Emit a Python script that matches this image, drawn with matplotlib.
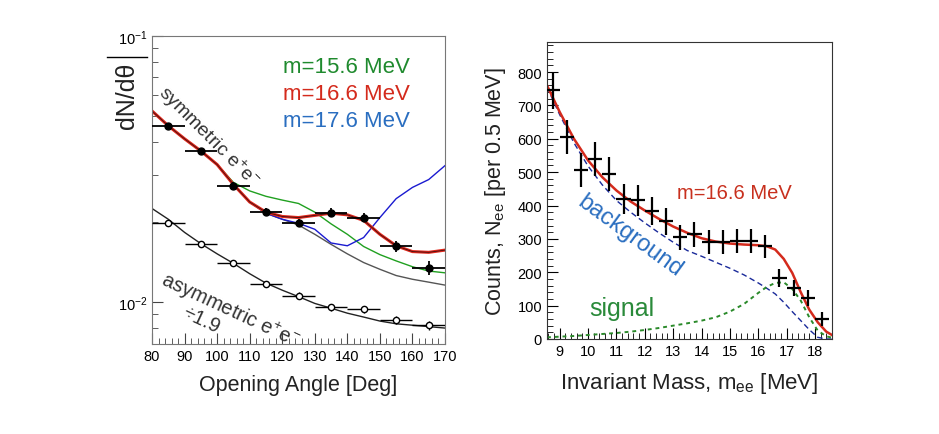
import numpy as np
import matplotlib
matplotlib.use("Agg")
import matplotlib.pyplot as plt
from matplotlib.ticker import MultipleLocator, LogLocator, NullFormatter, FixedLocator
from matplotlib.lines import Line2D

plt.rcParams['font.family'] = ['Liberation Sans', 'DejaVu Sans']
plt.rcParams['mathtext.fontset'] = 'custom'
plt.rcParams['mathtext.rm'] = 'Liberation Sans'
plt.rcParams['mathtext.it'] = 'Liberation Sans:italic'

# ---- left panel: angular distributions ----
ang = [85, 95, 105, 115, 125, 135, 145, 155, 165]
sym_y = [0.046, 0.037, 0.0274, 0.0219, 0.0198, 0.0217, 0.0208, 0.0162, 0.0135]
sym_err = [0.0009, 0.0008, 0.0008, 0.0007, 0.0007, 0.0008, 0.0008, 0.0008, 0.0008]
asym_y = [0.0199, 0.0165, 0.0141, 0.0117, 0.0106, 0.00957, 0.0094, 0.00858, 0.0082]
asym_err = [0.0003, 0.0003, 0.0003, 0.0003, 0.0003, 0.0003, 0.0003, 0.0003, 0.0003]

cx = [80, 85, 90, 95, 100, 105, 110, 115, 120, 125, 130, 135, 140, 145, 150, 155, 160, 165, 170]
fit_red = [0.0523, 0.046, 0.0411, 0.037, 0.0329, 0.0277, 0.0238, 0.0218, 0.0210, 0.0208, 0.0212,
           0.0216, 0.0213, 0.0203, 0.0180, 0.0163, 0.0155, 0.0154, 0.0157]
fit_green = [0.0523, 0.046, 0.0411, 0.037, 0.0329, 0.0282, 0.0262, 0.0250, 0.0242, 0.0235, 0.0218,
             0.0197, 0.0180, 0.0162, 0.0151, 0.0143, 0.0136, 0.0131, 0.0129]
fit_blue = [0.0523, 0.046, 0.0411, 0.037, 0.0329, 0.0277, 0.0238, 0.0216, 0.0205, 0.0198, 0.0188,
            0.0167, 0.0163, 0.0175, 0.0208, 0.0245, 0.0270, 0.0289, 0.0326]
fit_bkg = [0.0523, 0.046, 0.0411, 0.037, 0.0329, 0.0277, 0.0238, 0.0216, 0.0205, 0.0195, 0.0180,
           0.0165, 0.0152, 0.0141, 0.0133, 0.0126, 0.0122, 0.0119, 0.0116]
fit_asym = [0.0225, 0.0205, 0.0183, 0.0166, 0.0152, 0.0140, 0.0128, 0.0118, 0.0111, 0.0105, 0.0099,
            0.0095, 0.0091, 0.0088, 0.0085, 0.0083, 0.0082, 0.0081, 0.0080]

# ---- right panel: invariant mass ----
mass = [8.75, 9.25, 9.75, 10.25, 10.75, 11.25, 11.75, 12.25, 12.75, 13.25,
        13.75, 14.25, 14.75, 15.25, 15.75, 16.25, 16.75, 17.25, 17.75, 18.25]
counts = [745, 605, 506, 539, 494, 420, 415, 383, 353, 305,
          314, 290, 290, 293, 293, 278, 183, 153, 123, 60]
cnt_err = [55, 52, 52, 52, 50, 45, 45, 42, 40, 38, 38, 36, 36, 36, 36, 35, 28, 25, 24, 20]

mx = [8.55, 9.0, 9.5, 10.0, 10.5, 11.0, 11.5, 12.0, 12.5, 13.0, 13.5, 14.0, 14.5, 15.0,
      15.5, 16.0, 16.3, 16.6, 16.9, 17.2, 17.5, 17.8, 18.1, 18.4, 18.6]
tot_fit = [760, 680, 600, 535, 485, 445, 412, 385, 360, 337, 318, 302, 292, 286,
           283, 281, 278, 268, 240, 198, 140, 88, 50, 22, 12]
bkg_fit = [755, 672, 588, 518, 462, 415, 380, 348, 318, 290, 265, 248, 230, 212,
           192, 168, 152, 135, 110, 82, 55, 28, 5, 0, 0]
sig_fit = [5, 7, 9, 12, 15, 18, 22, 27, 33, 40, 47, 55, 65, 82,
           105, 138, 156, 168, 170, 150, 115, 65, 25, 8, 4]

fig = plt.figure(figsize=(9.39, 4.35), dpi=100)

# left
ax1 = fig.add_axes([0.1619, 0.2069, 0.3120, 0.7080])
ax1.set_yscale('log')
ax1.plot(cx, fit_asym, color='#222222', lw=1.0)
ax1.plot(cx, fit_bkg, color='#555555', lw=1.0)
ax1.plot(cx, fit_green, color='#20a020', lw=1.0)
ax1.plot(cx, fit_blue, color='#1a1ad0', lw=1.0)
ax1.plot(cx, fit_red, color='#e0261a', lw=2.2)
ax1.plot(cx, fit_red, color='#401010', lw=0.6)
ax1.errorbar(ang, sym_y, yerr=sym_err, xerr=5, fmt='o', color='black', ms=5, lw=1.3,
             capsize=0, zorder=5)
ax1.errorbar(ang, asym_y, yerr=asym_err, xerr=5, fmt='o', color='black', mfc='white',
             ms=4.5, lw=1.0, capsize=0, zorder=5)
ax1.set_xlim(80, 170)
ax1.set_ylim(0.00697, 0.1)
ax1.xaxis.set_major_locator(MultipleLocator(10))
ax1.xaxis.set_minor_locator(MultipleLocator(2))
ax1.yaxis.set_major_locator(FixedLocator([0.01, 0.1]))
ax1.yaxis.set_minor_locator(LogLocator(base=10, subs=np.arange(2, 10)))
ax1.yaxis.set_minor_formatter(NullFormatter())
ax1.tick_params(which='both', direction='in', top=False, right=False, labelsize=10.5,
                colors='#444444', labelcolor='black')
ax1.tick_params(which='major', length=8)
ax1.tick_params(which='minor', length=4)
for s in ax1.spines.values():
    s.set_color('#777777')
ax1.set_xlabel('Opening Angle [Deg]', fontsize=15.5, color='#222222', labelpad=8)
ax1.set_ylabel('dN/d\u03b8', fontsize=18, color='#222222')
ax1.yaxis.set_label_coords(-0.045, 0.81)
fig.add_artist(Line2D([107 / 939, 147 / 939], [1 - 58 / 435, 1 - 58 / 435], color='black', lw=1.0))

ax1.text(0.447, 0.90, 'm=15.6 MeV', transform=ax1.transAxes, color='#1f8a2e', fontsize=16, va='center')
ax1.text(0.447, 0.813, 'm=16.6 MeV', transform=ax1.transAxes, color='#d42a1c', fontsize=16, va='center')
ax1.text(0.447, 0.726, 'm=17.6 MeV', transform=ax1.transAxes, color='#2a6ec0', fontsize=16, va='center')
ax1.text(85.3, 0.068, 'symmetric e$^{+}$e$^{-}$', rotation=-45, fontsize=14, color='#333333',
         ha='left', va='top', rotation_mode='anchor')
ax1.text(84.6, 0.0135, 'asymmetric e$^{+}$e$^{-}$', rotation=-25, fontsize=14.5, color='#333333',
         ha='left', va='top', rotation_mode='anchor')
ax1.text(91.0, 0.0100, '\u00f71.9', rotation=-25, fontsize=14.5, color='#333333',
         ha='left', va='top', rotation_mode='anchor')

# right
ax2 = fig.add_axes([0.5825, 0.2184, 0.3035, 0.6828])
ax2.plot(mx, bkg_fit, color='#1a2a9a', lw=1.0, ls=(0, (4, 2.5)))
ax2.plot(mx, sig_fit, color='#2a8a2a', lw=1.4, ls=(0, (2, 2)))
ax2.plot(mx, tot_fit, color='#d42a1c', lw=1.8)
ax2.errorbar(mass, counts, yerr=cnt_err, xerr=0.25, fmt='none', ecolor='black', lw=1.6,
             capsize=0, zorder=5)
ax2.set_xlim(8.55, 18.6)
ax2.set_ylim(0, 890)
ax2.xaxis.set_major_locator(MultipleLocator(1))
ax2.xaxis.set_minor_locator(MultipleLocator(0.2))
ax2.yaxis.set_major_locator(MultipleLocator(100))
ax2.yaxis.set_minor_locator(MultipleLocator(20))
ax2.tick_params(which='both', direction='in', top=False, right=False, labelsize=10.5)
ax2.tick_params(which='major', length=8)
ax2.tick_params(which='minor', length=4)
for s in ax2.spines.values():
    s.set_color('#333333')
ax2.set_xlabel('Invariant Mass, m$_{\\mathrm{ee}}$ [MeV]', fontsize=16, color='#222222', labelpad=9)
ax2.set_ylabel('Counts, N$_{\\mathrm{ee}}$ [per 0.5 MeV]', fontsize=15.5, color='#222222', labelpad=7)
ax2.text(13.15, 440, 'm=16.6 MeV', color='#c8301e', fontsize=14.5, va='center')
ax2.text(9.95, 445, 'background', color='#2a6ec0', fontsize=17, rotation=-36,
         ha='left', va='top', rotation_mode='anchor')
ax2.text(10.05, 92, 'signal', color='#2a8a3a', fontsize=18, ha='left', va='center')

fig.savefig('out.png', dpi=100)
